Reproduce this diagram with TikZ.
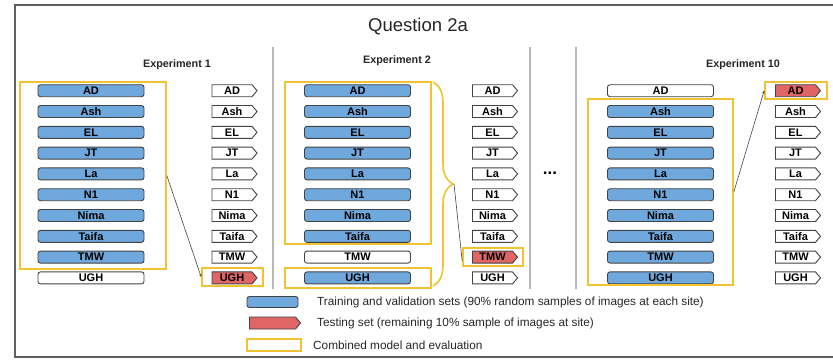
\documentclass[tikz,border=0pt]{standalone}
\usepackage{fontspec}
\setmainfont{Liberation Sans}
\usetikzlibrary{shapes.symbols,arrows.meta,decorations.pathreplacing}
\definecolor{trainblue}{HTML}{6FA8DC}
\definecolor{testred}{HTML}{E06666}
\definecolor{gold}{HTML}{F1C232}
\definecolor{edgegrey}{HTML}{434343}
\definecolor{divgrey}{HTML}{B7B7B7}
\definecolor{framegrey}{HTML}{5F5F5F}
\tikzset{
  bar/.style={draw=edgegrey, line width=0.9pt, rounded corners=2.5pt, minimum width=106pt, minimum height=12pt, inner sep=0pt, font=\bfseries\fontsize{11}{11}\selectfont},
  tagbox/.style={signal, signal to=east, signal pointer angle=100, draw=edgegrey, line width=0.9pt, minimum width=45pt, minimum height=12pt, inner sep=0pt, font=\bfseries\fontsize{11}{11}\selectfont},
  goldbox/.style={draw=gold, line width=1.6pt, inner sep=0pt},
  divider/.style={draw=divgrey, line width=1.1pt},
  link/.style={draw=edgegrey, line width=0.6pt},
  exptitle/.style={font=\bfseries\fontsize{10.8}{11}\selectfont, text=black!85},
  legendtext/.style={anchor=west, inner sep=0pt, font=\fontsize{11.8}{13}\selectfont, text=black!85}
}
\begin{document}
\begin{tikzpicture}[x=1pt, y=-1pt]
\useasboundingbox (0,0) rectangle (833,359);
% outer frame
\draw[framegrey, line width=1.6pt] (840,5) -- (15,5) -- (15,357) -- (840,357);
\node[font=\fontsize{18.5}{20}\selectfont, text=black!85] (title) at (418,27) {Question 2a};
% dividers
\coordinate (d1t) at (273,47); \coordinate (d1b) at (273,289);
\coordinate (d2t) at (530,47); \coordinate (d2b) at (530,289);
\coordinate (d3t) at (576,47); \coordinate (d3b) at (576,289);
\draw[divider] (d1t) -- (d1b);
\draw[divider] (d2t) -- (d2b);
\draw[divider] (d3t) -- (d3b);
% experiment titles
\node[exptitle] (x1) at (177,65) {Experiment 1};
\node[exptitle] (x2) at (397,61) {Experiment 2};
\node[exptitle] (x10) at (743,65) {Experiment 10};
\node[font=\bfseries\fontsize{17}{17}\selectfont] (dots) at (550,173) {...};
% rows
\foreach \ex/\bx/\tx/\tst in {1/91/232/9, 2/357.5/492.5/8, 10/660.5/795.5/0} {
  \foreach \n [count=\i from 0] in {AD,Ash,EL,JT,La,N1,Nima,Taifa,TMW,UGH} {
    \ifnum\i=\tst
      \node[bar, fill=white] (e\ex b\i) at (\bx, {90.7+20.8*\i}) {\n};
      \node[tagbox, fill=testred] (e\ex t\i) at (\tx, {90.7+20.8*\i}) {\n};
    \else
      \node[bar, fill=trainblue] (e\ex b\i) at (\bx, {90.7+20.8*\i}) {\n};
      \node[tagbox, fill=white] (e\ex t\i) at (\tx, {90.7+20.8*\i}) {\n};
    \fi
  }
}
% gold boxes
\node[goldbox, minimum width=146pt, minimum height=187pt] (e1box) at (93,175.5) {};
\node[goldbox, minimum width=61pt, minimum height=18pt] (e1tbox) at (232.5,277) {};
\node[goldbox, minimum width=146pt, minimum height=162pt] (e2box) at (358,163) {};
\node[goldbox, minimum width=146pt, minimum height=20pt] (e2ubox) at (358,278) {};
\node[goldbox, minimum width=60pt, minimum height=18pt] (e2tbox) at (493,257) {};
\node[goldbox, minimum width=145pt, minimum height=186pt] (e10box) at (660.5,192) {};
\node[goldbox, minimum width=62pt, minimum height=17pt] (e10tbox) at (796,90.5) {};
% brace
\coordinate (bt) at (433,82);
\coordinate (bb) at (433,286);
\coordinate (e2tip) at (454,184);
\draw[draw=gold, line width=1.6pt, decorate, decoration={brace, amplitude=20pt}] (bt) -- (bb);
% links
\draw[link, -{Stealth[length=3pt,width=2.5pt]}] (e1box.east) -- (e1tbox.west);
\draw[link] (e2tip) -- ([yshift=-4pt]e2tbox.west);
\draw[link, -{Stealth[length=3pt,width=2.5pt]}] (e10box.east) -- (e10tbox.west);
% legend
\node[bar, fill=trainblue, minimum width=51pt, minimum height=11pt] (lg1) at (272.5,302) {};
\node[tagbox, fill=testred, minimum width=51pt, minimum height=12pt] (lg2) at (272.5,323) {};
\node[goldbox, minimum width=54pt, minimum height=12pt] (lg3) at (274,345) {};
\node[legendtext] (lt1) at (317,302) {Training and validation sets (90\% random samples of images at each site)};
\node[legendtext] (lt2) at (317,323) {Testing set (remaining 10\% sample of images at site)};
\node[legendtext] (lt3) at (313,345) {Combined model and evaluation};
\end{tikzpicture}
\end{document}
